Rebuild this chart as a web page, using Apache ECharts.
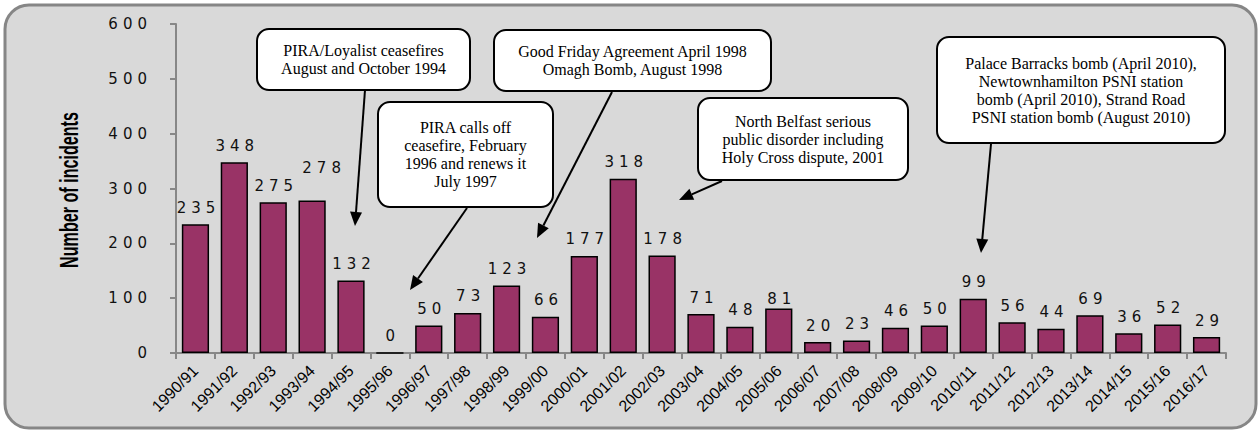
<!DOCTYPE html>
<html>
<head>
<meta charset="utf-8">
<title>Number of incidents</title>
<script src="https://cdn.jsdelivr.net/npm/echarts@6/dist/echarts.min.js"></script>
<style>
  html, body { margin: 0; padding: 0; background: #fff; }
  #chart { width: 1260px; height: 432px; }
  /* the numbers in the original are set in a very wide face */
  #chart text[style*="DejaVu"] { letter-spacing: 5px; }
</style>
</head>
<body>
<div id="chart"></div>
<script>
const years = [
  '1990/91', '1991/92', '1992/93', '1993/94', '1994/95', '1995/96', '1996/97',
  '1997/98', '1998/99', '1999/00', '2000/01', '2001/02', '2002/03', '2003/04',
  '2004/05', '2005/06', '2006/07', '2007/08', '2008/09', '2009/10', '2010/11',
  '2011/12', '2012/13', '2013/14', '2014/15', '2015/16', '2016/17',
]
const incidents = [
  235, 348, 275, 278, 132, 0, 50, 73, 123, 66, 177, 318, 178, 71,
  48, 81, 20, 23, 46, 50, 99, 56, 44, 69, 36, 52, 29,
]
const yName = 'Number of incidents'
const noteTexts = [
  'PIRA/Loyalist ceasefires\nAugust and October 1994',
  'Good Friday Agreement April 1998\nOmagh Bomb, August 1998',
  'PIRA calls off\nceasefire, February\n1996 and renews it\nJuly 1997',
  'North Belfast serious\npublic disorder including\nHoly Cross dispute, 2001',
  'Palace Barracks bomb (April 2010),\nNewtownhamilton PSNI station\nbomb (April 2010), Strand Road\nPSNI station bomb (August 2010)',
]

// callout layout in pixels: box [x, y, w, h], arrow [x1, y1, x2, y2]
const noteBoxes = [
  [257, 29, 213, 61],
  [494, 30, 277, 61],
  [378, 102, 175, 105],
  [698, 98, 210, 82],
  [937, 37, 288, 106],
]
const noteArrows = [
  [365, 90, 355, 226],
  [612, 92, 537, 238],
  [467, 208, 410, 290],
  [722, 181, 679, 200],
  [991, 144, 981, 253],
]

// a few value labels were nudged by hand in the original
const labelNudge = { 3: [12, -16], 15: [3, 7] }

function arrow(x1, y1, x2, y2) {
  const a = Math.atan2(y2 - y1, x2 - x1)
  const len = 14
  const half = 6
  const bx = x2 - len * Math.cos(a)
  const by = y2 - len * Math.sin(a)
  const px = -Math.sin(a) * half
  const py = Math.cos(a) * half
  return [
    {
      type: 'line', z: 100,
      shape: { x1, y1, x2: bx, y2: by },
      style: { stroke: '#000', lineWidth: 2 },
    },
    {
      type: 'polygon', z: 100,
      shape: { points: [[x2, y2], [bx + px, by + py], [bx - px, by - py]] },
      style: { fill: '#000' },
    },
  ]
}

const graphics = [
  {
    type: 'rect', z: 0,
    shape: { x: 5, y: 5, width: 1251, height: 423, r: 24 },
    style: { fill: '#d9d9d9', stroke: '#868686', lineWidth: 3 },
  },
  {
    // condensed bold axis title, squeezed along its length
    type: 'text', z: 50,
    x: 69, y: 190,
    rotation: Math.PI / 2,
    scaleX: 0.62,
    style: {
      text: yName,
      fill: '#000',
      font: 'bold 26px "Liberation Sans", Arial, sans-serif',
      align: 'center',
      verticalAlign: 'middle',
    },
  },
]

noteTexts.forEach((t, i) => {
  const [x, y, w, h] = noteBoxes[i]
  graphics.push({
    type: 'rect', z: 100,
    shape: { x, y, width: w, height: h, r: 12 },
    style: { fill: '#fff', stroke: '#000', lineWidth: 2 },
  })
  graphics.push({
    type: 'text', z: 101,
    x: x + w / 2, y: y + h / 2,
    style: {
      text: t,
      fill: '#000',
      font: '16px "Liberation Serif", "Times New Roman", serif',
      align: 'center',
      verticalAlign: 'middle',
      lineHeight: 18,
    },
  })
  graphics.push(...arrow(...noteArrows[i]))
})

const barData = incidents.map((v, i) => {
  if (!labelNudge[i]) return v
  return { value: v, label: { offset: labelNudge[i] } }
})

const chart = echarts.init(document.getElementById('chart'), null, { renderer: 'svg' })
chart.setOption({
  animation: false,
  backgroundColor: '#fff',
  grid: { left: 176, right: 34, top: 24, bottom: 79 },
  graphic: graphics,
  xAxis: {
    type: 'category',
    data: years,
    axisLine: { lineStyle: { color: '#878787', width: 2 } },
    axisTick: { show: true, length: 6, interval: 0, lineStyle: { color: '#878787', width: 2 } },
    axisLabel: {
      interval: 0,
      rotate: 45,
      margin: 15,
      color: '#000',
      fontSize: 16,
      fontFamily: '"Liberation Sans", Arial, sans-serif',
    },
  },
  yAxis: {
    type: 'value',
    min: 0,
    max: 600,
    interval: 100,
    axisLine: { show: true, lineStyle: { color: '#878787', width: 2 } },
    axisTick: { show: true, length: 6, lineStyle: { color: '#878787', width: 2 } },
    axisLabel: {
      margin: 24,
      color: '#111',
      fontSize: 15,
      fontFamily: '"DejaVu Sans", Verdana, sans-serif',
    },
    splitLine: { show: false },
  },
  series: [{
    type: 'bar',
    data: barData,
    barWidth: '70%',
    itemStyle: { color: '#993366', borderColor: '#000', borderWidth: 1.5 },
    label: {
      show: true,
      position: 'top',
      distance: 9,
      offset: [3, 0],
      color: '#111',
      fontSize: 15,
      fontFamily: '"DejaVu Sans", Verdana, sans-serif',
    },
  }],
})
</script>
</body>
</html>
